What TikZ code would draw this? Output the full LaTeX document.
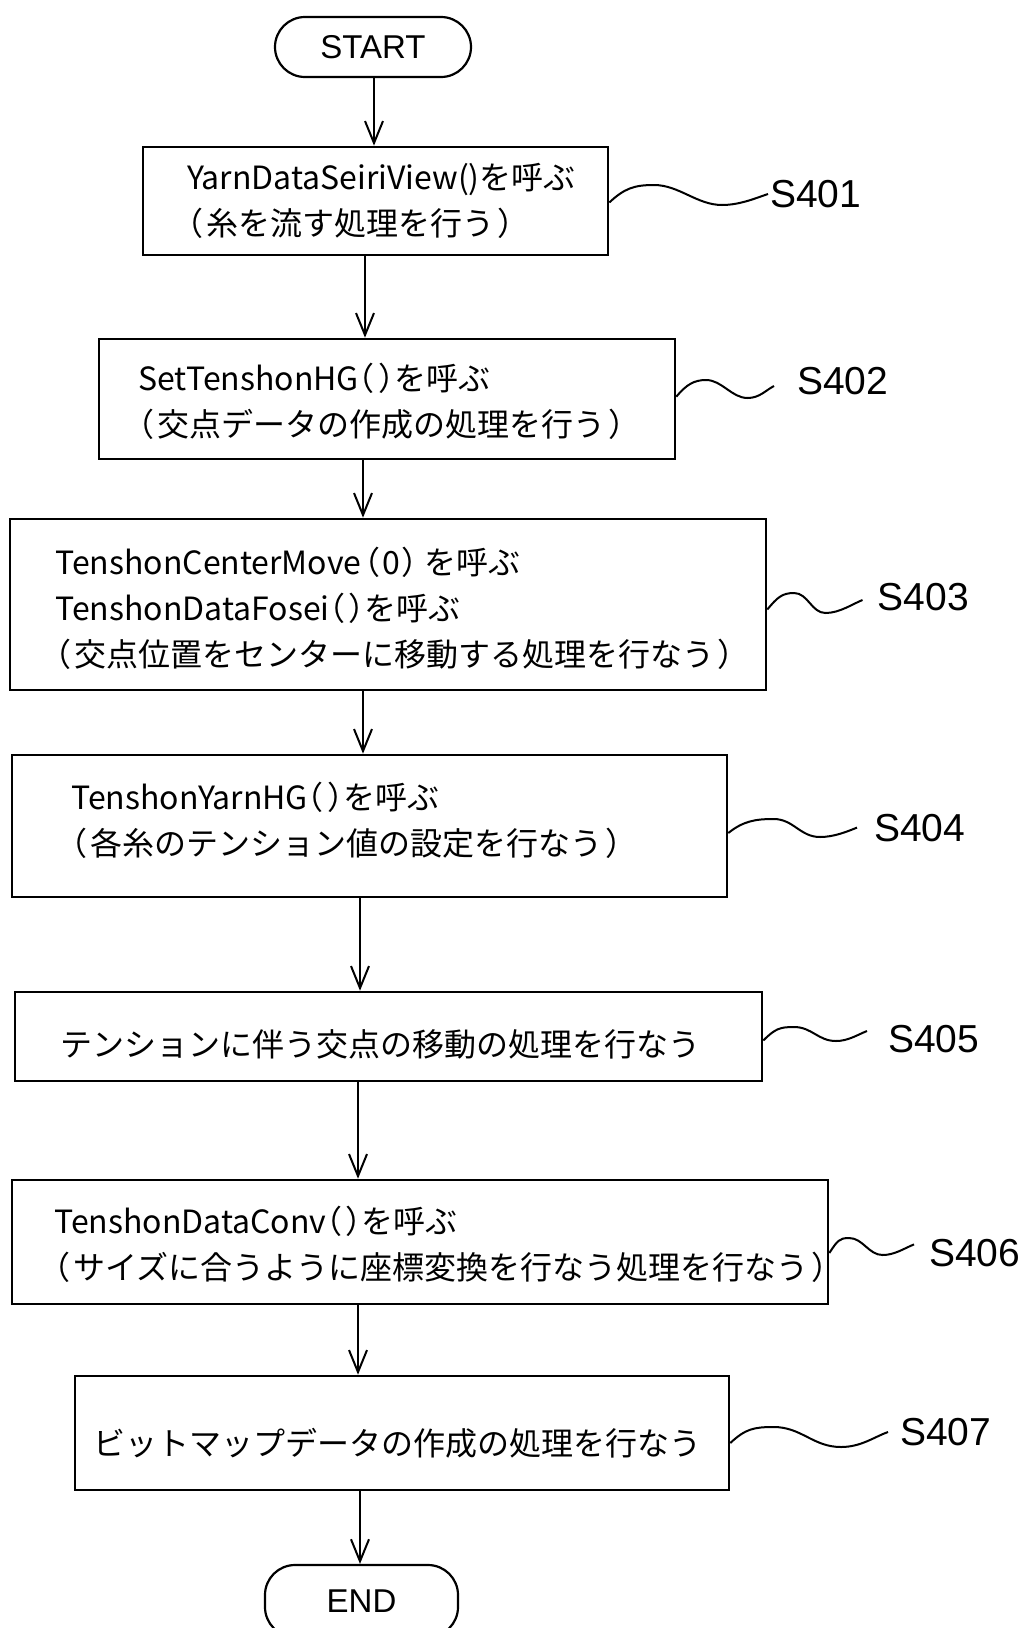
\documentclass[tikz,border=0pt]{standalone}
\usepackage{fontspec}
\newfontfamily\jp{Noto Sans CJK JP}
\newfontfamily\jph[RawFeature=+halt]{Noto Sans CJK JP}
\newfontfamily\lat{Liberation Sans}
\usetikzlibrary{arrows.meta,calc}
\newcommand\myparens{{\jph （}\hspace{0.1em}{\jph ）}}
\newcommand\myopen{{\jph （}\hspace{0.1em}}
\newcommand\myclose{\hspace{0.1em}{\jph ）}}
\begin{document}
\begin{tikzpicture}[x=1pt,y=-1pt,
  stepbox/.style={draw, line width=2.6pt, rectangle, inner sep=0pt},
  txt/.style={anchor=west, align=left, inner sep=0pt, font=\jp\fontsize{32}{46}\selectfont},
  term/.style={draw, line width=2.2pt, rounded corners=30pt, inner sep=0pt, font=\lat\fontsize{33}{33}\selectfont},
  arr/.style={line width=2pt, -{Straight Barb[length=22pt,width=18pt,line width=2pt]}},
  wave/.style={line width=2pt},
  lab/.style={font=\lat\fontsize{39}{39}\selectfont, anchor=west, inner sep=0pt},
]
\useasboundingbox (0,0) rectangle (1029,1628);
\fill[white] (0,0) rectangle (1029,1628);

% terminals
\node[term, minimum width=196pt, minimum height=60pt] (start) at (373,47) {START};
\node[term, minimum width=193pt, minimum height=72pt] (end) at (361.5,1601) {END};

% process boxes
\node[stepbox, minimum width=465pt, minimum height=108pt] (s401) at (375.5,201) {};
\node[stepbox, minimum width=576pt, minimum height=120pt] (s402) at (387,399) {};
\node[stepbox, minimum width=756pt, minimum height=171pt] (s403) at (388,604.5) {};
\node[stepbox, minimum width=715pt, minimum height=142pt] (s404) at (369.5,826) {};
\node[stepbox, minimum width=747pt, minimum height=89pt] (s405) at (388.5,1036.5) {};
\node[stepbox, minimum width=816pt, minimum height=124pt] (s406) at (420,1242) {};
\node[stepbox, minimum width=654pt, minimum height=114pt] (s407) at (402,1433) {};

% texts
\node[txt] (t401) at (187,201) {YarnDataSeiriView()を呼ぶ\\\myopen 糸を流す処理を行う\myclose};
\node[txt] (t402) at (138,401) {SetTenshonHG\myparens を呼ぶ\\\myopen 交点データの作成の処理を行う\myclose};
\node[txt] (t403) at (55,608) {TenshonCenterMove\hspace{0.1em}{\jph （}\hspace{0.05em}0\hspace{0.05em}{\jph ）}\hspace{0.2em}を呼ぶ\\TenshonDataFosei\myparens を呼ぶ\\\myopen 交点位置をセンターに移動する処理を行なう\myclose};
\node[txt] (t404) at (71,820) {TenshonYarnHG\myparens を呼ぶ\\\myopen 各糸のテンション値の設定を行なう\myclose};
\node[txt] (t405) at (60,1044) {テンションに伴う交点の移動の処理を行なう};
\node[txt] (t406) at (54,1244) {TenshonDataConv\myparens を呼ぶ\\\myopen サイズに合うように座標変換を行なう処理を行なう\myclose};
\node[txt] (t407) at (93,1443) {ビットマップデータの作成の処理を行なう};

% labels
\node[lab] (l401) at (770,194) {S401};
\node[lab] (l402) at (797,381) {S402};
\node[lab] (l403) at (877.5,597) {S403};
\node[lab] (l404) at (874,827.6) {S404};
\node[lab] (l405) at (888,1039.5) {S405};
\node[lab] (l406) at (929,1253.4) {S406};
\node[lab] (l407) at (900,1432) {S407};

% arrow columns
\coordinate (x0) at (374,0);
\coordinate (x1) at (365,0);
\coordinate (x2) at (363,0);
\coordinate (x3) at (363,0);
\coordinate (x4) at (360,0);
\coordinate (x5) at (358,0);
\coordinate (x6) at (358,0);
\coordinate (x7) at (360,0);

\draw[arr] (start.south -| x0) -- (s401.north -| x0);
\draw[arr] (s401.south -| x1) -- (s402.north -| x1);
\draw[arr] (s402.south -| x2) -- (s403.north -| x2);
\draw[arr] (s403.south -| x3) -- (s404.north -| x3);
\draw[arr] (s404.south -| x4) -- (s405.north -| x4);
\draw[arr] (s405.south -| x5) -- (s406.north -| x5);
\draw[arr] (s406.south -| x6) -- (s407.north -| x6);
\draw[arr] (s407.south -| x7) -- (end.north -| x7);

% wavy leaders
\draw[wave] ([yshift=-1.5pt]s401.east) .. controls +(15,-14) and +(-20,0) .. (654,185)
  .. controls +(25,0) and +(-25,0) .. (722,205) .. controls +(18,0) and +(-12,4) .. ([xshift=-2pt]l401.west);
\draw[wave] ([yshift=2.3pt]s402.east) .. controls +(10,-12) and +(-12,0) .. (706,380)
  .. controls +(16,0) and +(-16,0) .. (747.6,398) .. controls +(12,0) and +(-8,4) .. ([xshift=-23pt,yshift=-5pt]l402.west);
\draw[wave] ([yshift=-5pt]s403.east) .. controls +(10,-12) and +(-12,0) .. (794,593)
  .. controls +(14,0) and +(-14,0) .. (825.5,613) .. controls +(14,0) and +(-10,4) .. ([xshift=-15pt,yshift=-3pt]l403.west);
\draw[wave] ([yshift=-7pt]s404.east) .. controls +(15,-12) and +(-18,0) .. (773.6,819)
  .. controls +(20,0) and +(-20,0) .. (820,837) .. controls +(14,0) and +(-10,4) .. ([xshift=-17pt]l404.west);
\draw[wave] ([yshift=-4pt]s405.east) .. controls +(12,-12) and +(-14,0) .. (794,1027)
  .. controls +(18,0) and +(-18,0) .. (836,1041) .. controls +(12,0) and +(-10,4) .. ([xshift=-21pt,yshift=8.5pt]l405.west);
\draw[wave] ([yshift=-11pt]s406.east) .. controls +(8,-12) and +(-10,0) .. (849,1238)
  .. controls +(14,0) and +(-14,0) .. (882.6,1255) .. controls +(12,0) and +(-10,4) .. ([xshift=-15pt,yshift=9pt]l406.west);
\draw[wave] ([yshift=-10pt]s407.east) .. controls +(15,-14) and +(-20,0) .. (773.6,1427)
  .. controls +(28,0) and +(-28,0) .. (841,1447) .. controls +(20,0) and +(-14,5) .. ([xshift=-12pt]l407.west);
\end{tikzpicture}
\end{document}
